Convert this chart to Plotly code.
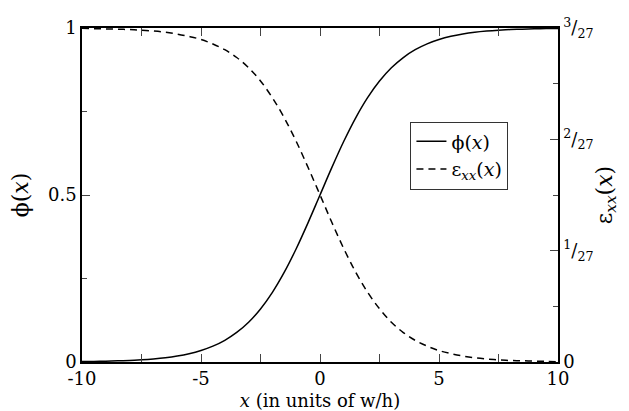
import plotly.graph_objects as go

# values
x_vals = [-10, -9.5, -9, -8.5, -8, -7.5, -7, -6.5, -6, -5.5, -5, -4.5, -4, -3.5, -3,
          -2.5, -2, -1.5, -1, -0.5, 0, 0.5, 1, 1.5, 2, 2.5, 3, 3.5, 4, 4.5, 5,
          5.5, 6, 6.5, 7, 7.5, 8, 8.5, 9, 9.5, 10]

phi = [0.0013, 0.0018, 0.0025, 0.0034, 0.0048, 0.0067, 0.0093, 0.0129, 0.0180, 0.0249,
       0.0345, 0.0474, 0.0650, 0.0884, 0.1192, 0.1589, 0.2086, 0.2689, 0.3392, 0.4174,
       0.5000, 0.5826, 0.6608, 0.7311, 0.7914, 0.8411, 0.8808, 0.9116, 0.9350, 0.9526,
       0.9655, 0.9751, 0.9820, 0.9871, 0.9907, 0.9933, 0.9952, 0.9966, 0.9975, 0.9982,
       0.9987]

eps_xx = [0.1110, 0.1109, 0.1108, 0.1107, 0.1106, 0.1104, 0.1101, 0.1097, 0.1091, 0.1083,
          0.1073, 0.1058, 0.1039, 0.1013, 0.0979, 0.0935, 0.0879, 0.0812, 0.0734, 0.0647,
          0.0556, 0.0464, 0.0377, 0.0299, 0.0232, 0.0177, 0.0132, 0.0098, 0.0072, 0.0053,
          0.0038, 0.0028, 0.0020, 0.0014, 0.0010, 0.0007, 0.0005, 0.0004, 0.0003, 0.0002,
          0.0001]

x_ticks = [-10, -5, 0, 5, 10]
x_labels = ["-10", "-5", "0", "5", "10"]
phi_ticks = [0, 0.5, 1]
phi_labels = ["0", "0.5", "1"]
eps_ticks = [0, 1 / 27, 2 / 27, 3 / 27]
eps_labels = ["0", "<sup>1</sup>/<sub>27</sub>", "<sup>2</sup>/<sub>27</sub>",
              "<sup>3</sup>/<sub>27</sub>"]

font = "DejaVu Serif"

fig = go.Figure()
fig.add_trace(go.Scatter(x=x_vals, y=phi, mode="lines", name="ϕ(<i>x</i>)",
                         line=dict(color="black", width=1.5, shape="spline")))
fig.add_trace(go.Scatter(x=x_vals, y=eps_xx, mode="lines", yaxis="y2",
                         name="ε<sub><i>xx</i></sub>(<i>x</i>)",
                         line=dict(color="black", width=1.5, shape="spline",
                                   dash="7px,5px")))

# page body has an 8px margin, so the figure is a bit smaller and shifted
fig.update_layout(
    width=621, height=403,
    margin=dict(l=74, r=71, t=20, b=49),
    plot_bgcolor="white", paper_bgcolor="white",
    font=dict(family=font, size=18, color="black"),
    showlegend=True,
    legend=dict(x=0.69, y=0.72, xanchor="left", yanchor="top",
                bordercolor="#333", borderwidth=1, bgcolor="white",
                itemwidth=30, tracegroupgap=0,
                font=dict(family=font, size=19)),
    xaxis=dict(range=[-10, 10], tickvals=x_ticks, ticktext=x_labels, ticks="inside",
               ticklen=8, tickwidth=1, showline=True, linecolor="black", linewidth=1.5,
               mirror="allticks", showgrid=False, zeroline=False, automargin=False,
               minor=dict(ticks="inside", ticklen=5, dtick=2.5, tick0=0, showgrid=False),
               title=dict(text="<i>x</i> (in units of w/h)", standoff=8,
                          font=dict(size=18))),
    yaxis=dict(range=[0, 1], tickvals=phi_ticks, ticktext=phi_labels, ticks="inside",
               ticklen=8, tickwidth=1, showline=True, linecolor="black", linewidth=1.5,
               showgrid=False, zeroline=False, automargin=False,
               minor=dict(ticks="inside", ticklen=5, dtick=0.25, tick0=0, showgrid=False),
               title=dict(text="ϕ(<i>x</i>)", standoff=18)),
    yaxis2=dict(range=[0, 3 / 27], overlaying="y", side="right", tickvals=eps_ticks,
                ticktext=eps_labels, ticks="inside", ticklen=8, tickwidth=1,
                showline=True, linecolor="black", linewidth=1.5, showgrid=False,
                zeroline=False, automargin=False,
                minor=dict(ticks="inside", ticklen=5, dtick=1 / 54, tick0=0,
                           showgrid=False),
                title=dict(text="ε<sub><i>xx</i></sub>(<i>x</i>)", standoff=4)),
)

fig.write_html("out.html")
